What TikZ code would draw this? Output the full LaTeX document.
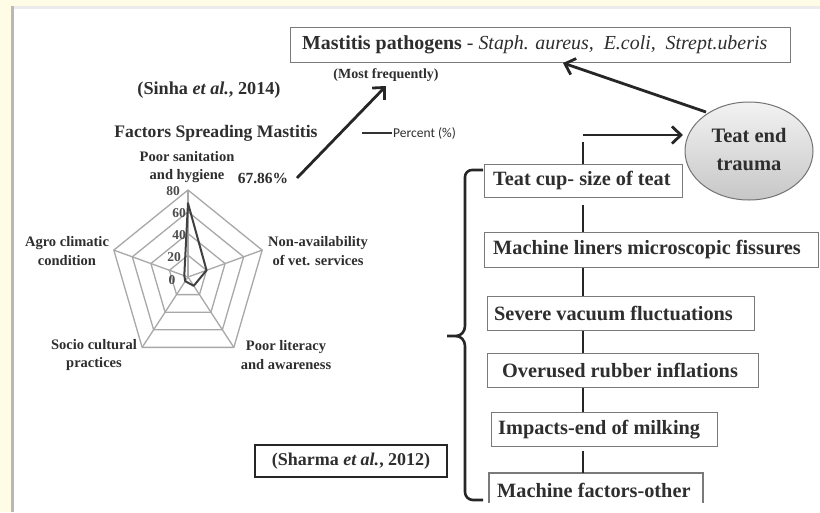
\documentclass[tikz,border=0pt]{standalone}
\usepackage{fontspec}
\setmainfont{Liberation Serif}
\newfontfamily\calfont{Carlito}
\usetikzlibrary{arrows.meta,calc}
\definecolor{cream}{HTML}{FFFCE6}
\definecolor{boxgray}{HTML}{7A7A7A}
\definecolor{gridgray}{HTML}{A8A8A8}
\definecolor{txt}{HTML}{2E2E2E}
\tikzset{
  fbox/.style={draw=boxgray, line width=1.4pt, fill=white, inner sep=0pt, anchor=north west},
  ftext/.style={anchor=west, inner sep=0pt, font=\bfseries\fontsize{20.3}{22}\selectfont, text=txt},
  conn/.style={line width=2.6pt, draw=black!85},
  bigarrow/.style={line width=2.8pt, draw=black!85, -{Straight Barb[length=9pt,width=17pt,line width=2.8pt]}},
  axlab/.style={font=\bfseries\fontsize{14.5}{18.5}\selectfont, text=txt, align=center},
  scalelab/.style={font=\bfseries\fontsize{13.5}{15}\selectfont, text=black!70},
}
\begin{document}
\begin{tikzpicture}[x=1pt,y=-1pt]
\useasboundingbox (0,0) rectangle (820,512);
% background
\fill[cream] (0,0) rectangle (820,512);
\fill[white] (11,6) rectangle (820,512);
\fill[black!8] (11,6) rectangle (820,8.5);
\fill[black!28] (11,6) rectangle (13.5,512);

% top pathogens box
\node[draw=boxgray, line width=1.4pt, minimum width=500pt, minimum height=35pt, inner sep=0pt, anchor=north west] (path) at (290,27) {};
\node[anchor=west, inner sep=0pt, text=txt] (pathtxt) at (302,44.5)
  {\fontsize{19.9}{21}\selectfont\textbf{Mastitis pathogens} - \textit{Staph. aureus,\ \ E.coli,\ \ Strept.uberis}};
\node[font=\bfseries\fontsize{14}{16}\selectfont, text=txt] (most) at (386,75) {(Most frequently)};

% Sinha
\node[font=\bfseries\fontsize{18.2}{20}\selectfont, text=txt] (sinha) at (209,90) {(Sinha \textit{et al.}, 2014)};
\node[font=\bfseries\fontsize{17.6}{20}\selectfont, text=txt] (ftitle) at (216,133) {Factors Spreading Mastitis};
\coordinate (legA) at (362,133);
\coordinate (legB) at (392,133);
\draw[line width=1.6pt, black!80] (legA) -- (legB);
\node[anchor=west, inner sep=1pt, font=\calfont\fontsize{13.5}{15}\selectfont, text=txt] (leg) at (legB) {Percent (\%)};

% radar chart
\def\cx{188}\def\cy{277}\def\rx{78}\def\ry{87}
\foreach \f in {0.25,0.5,0.75,1}{
  \draw[gridgray, line width=1.3pt]
    ({\cx+\rx*\f*cos(90)},{\cy-\ry*\f*sin(90)})
    -- ({\cx+\rx*\f*cos(18)},{\cy-\ry*\f*sin(18)})
    -- ({\cx+\rx*\f*cos(-54)},{\cy-\ry*\f*sin(-54)})
    -- ({\cx+\rx*\f*cos(-126)},{\cy-\ry*\f*sin(-126)})
    -- ({\cx+\rx*\f*cos(162)},{\cy-\ry*\f*sin(162)}) -- cycle;
}
\foreach \a in {90,18,-54,-126,162}{
  \draw[gridgray, line width=1.3pt] (\cx,\cy) -- ({\cx+\rx*cos(\a)},{\cy-\ry*sin(\a)});
}
\draw[black!75, line width=2pt, line join=round]
  ({\cx+\rx*0.848*cos(90)},{\cy-\ry*0.848*sin(90)})
  -- ({\cx+\rx*0.25*cos(18)},{\cy-\ry*0.25*sin(18)})
  -- ({\cx+\rx*0.125*cos(-54)},{\cy-\ry*0.125*sin(-54)})
  -- ({\cx+\rx*0.06*cos(-126)},{\cy-\ry*0.06*sin(-126)})
  -- ({\cx+\rx*0.05*cos(162)},{\cy-\ry*0.05*sin(162)}) -- cycle;
\node[scalelab] (s80) at (173,191) {80};
\node[scalelab] (s60) at (179,213) {60};
\node[scalelab] (s40) at (179,235) {40};
\node[scalelab] (s20) at (174,257) {20};
\node[scalelab] (s0) at (172,280) {0};
\node[axlab] (poor) at (187,167) {Poor sanitation\\and hygiene};
\node[axlab, font=\bfseries\fontsize{15.5}{17}\selectfont] (pct) at (263,178) {67.86\%};
\node[axlab] (agro) at (67,251) {Agro climatic\\condition};
\node[axlab] (nonav) at (318,251) {Non-availability\\of vet. services};
\node[axlab] (socio) at (94,355) {Socio cultural\\practices};
\node[axlab] (lit) at (286,355) {Poor literacy\\and awareness};

% arrow from chart to most frequently
\coordinate (a1s) at (297,178);
\coordinate (a1e) at (386,86);
\draw[bigarrow] (a1s) -- (a1e);

% Teat end trauma ellipse
\shade[top color=black!5, bottom color=black!22, draw=black!55, line width=1pt]
  (749,151) ellipse [x radius=64, y radius=49];
\node[font=\bfseries\fontsize{20.5}{28}\selectfont, text=txt, align=center] (teat) at (749,150) {Teat end\\trauma};
\coordinate (teatUL) at (706,112);
\coordinate (pathTip) at (563,63);
\draw[bigarrow] (teatUL) -- (pathTip);

% machine factor boxes
\node[fbox, minimum width=198pt, minimum height=33pt] (b1) at (484,164) {};
\node[ftext] (t1) at (493,181) {Teat cup- size of teat};
\node[fbox, minimum width=334pt, minimum height=35pt] (b2) at (484,232) {};
\node[ftext] (t2) at (493,250) {Machine liners microscopic fissures};
\node[fbox, minimum width=267pt, minimum height=34pt] (b3) at (487,296) {};
\node[ftext] (t3) at (494,313.5) {Severe vacuum fluctuations};
\node[fbox, minimum width=271pt, minimum height=34pt] (b4) at (487,353) {};
\node[ftext] (t4) at (502,370.5) {Overused rubber inflations};
\node[fbox, minimum width=226pt, minimum height=34pt] (b5) at (491,412) {};
\node[ftext] (t5) at (498,429.5) {Impacts-end of milking};
\coordinate (b6bl) at (489,503);
\coordinate (b6tl) at (489,473);
\coordinate (b6tr) at (703,473);
\coordinate (b6br) at (703,503);
\draw[boxgray, line width=1.4pt] (b6bl) -- (b6tl) -- (b6tr) -- (b6br);
\node[ftext] (t6) at (497,490.5) {Machine factors-other};

% connectors between boxes
\coordinate (cTop) at (583,142);
\draw[conn] (cTop) -- (b1.north -| cTop);
\draw[conn] ($(b1.south -| cTop)+(0,7)$) -- (b2.north -| cTop);
\draw[conn] (b2.south -| cTop) -- (b3.north -| cTop);
\draw[conn] (b3.south -| cTop) -- (b4.north -| cTop);
\draw[conn] (b4.south -| cTop) -- (b5.north -| cTop);
\draw[conn] ($(b5.south -| cTop)+(0,4)$) -- (b6tl -| cTop);
\coordinate (hStart) at (583,135);
\coordinate (hEnd) at (683,135);
\draw[bigarrow] (hStart) -- (hEnd);

% brace
\coordinate (brTop) at (483,170);
\coordinate (brBot) at (483,500);
\coordinate (brCusp) at (447,336);
\draw[line width=2.6pt, black!85, line join=round]
  (brTop) -- (472,170) to[out=180,in=90] (465,177) -- (465,326)
  to[out=-90,in=0] (456,336) -- (brCusp);
\draw[line width=2.6pt, black!85, line join=round]
  (456,336) to[out=0,in=90] (465,346) -- (465,492) to[out=-90,in=180] (473,500) -- (brBot);

% Sharma box
\node[draw=black!85, line width=2pt, minimum width=192pt, minimum height=32pt, inner sep=0pt,
  font=\bfseries\fontsize{18}{20}\selectfont, text=txt] (sharma) at (351,461) {(Sharma \textit{et al.}, 2012)};
\end{tikzpicture}
\end{document}
